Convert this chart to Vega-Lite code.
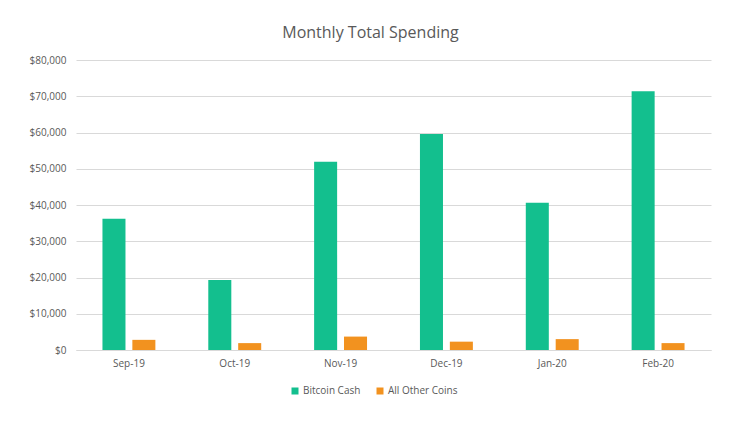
{
  "$schema": "https://vega.github.io/schema/vega-lite/v6.json",
  "width": 635,
  "height": 290,
  "autosize": "none",
  "padding": {"left": 76, "top": 60, "right": 31, "bottom": 74},
  "background": "white",
  "title": {
    "text": "Monthly Total Spending",
    "font": "Open Sans",
    "fontSize": 16,
    "fontWeight": "normal",
    "color": "#595959",
    "offset": 14,
    "dx": -23
  },
  "data": {
    "values": [
      {"Month": "Sep-19", "Series": "Bitcoin Cash", "Spending": 36200},
      {"Month": "Sep-19", "Series": "All Other Coins", "Spending": 2800},
      {"Month": "Oct-19", "Series": "Bitcoin Cash", "Spending": 19300},
      {"Month": "Oct-19", "Series": "All Other Coins", "Spending": 1900},
      {"Month": "Nov-19", "Series": "Bitcoin Cash", "Spending": 51900},
      {"Month": "Nov-19", "Series": "All Other Coins", "Spending": 3700},
      {"Month": "Dec-19", "Series": "Bitcoin Cash", "Spending": 59600},
      {"Month": "Dec-19", "Series": "All Other Coins", "Spending": 2300},
      {"Month": "Jan-20", "Series": "Bitcoin Cash", "Spending": 40600},
      {"Month": "Jan-20", "Series": "All Other Coins", "Spending": 3000},
      {"Month": "Feb-20", "Series": "Bitcoin Cash", "Spending": 71400},
      {"Month": "Feb-20", "Series": "All Other Coins", "Spending": 1900}
    ]
  },
  "mark": "bar",
  "encoding": {
    "x": {
      "field": "Month",
      "type": "nominal",
      "sort": null,
      "scale": {"paddingInner": 0.5, "paddingOuter": 0.25},
      "axis": {
        "title": null,
        "labelAngle": 0,
        "ticks": false,
        "domainColor": "#d9d9d9",
        "labelPadding": 8
      }
    },
    "xOffset": {
      "field": "Series",
      "type": "nominal",
      "sort": ["Bitcoin Cash", "All Other Coins"],
      "scale": {"paddingInner": 0.23, "paddingOuter": 0}
    },
    "y": {
      "field": "Spending",
      "type": "quantitative",
      "scale": {"domain": [0, 80000]},
      "axis": {
        "title": null,
        "values": [0, 10000, 20000, 30000, 40000, 50000, 60000, 70000, 80000],
        "format": "$,.0f",
        "domain": false,
        "ticks": false,
        "labelPadding": 10,
        "gridColor": "#d9d9d9"
      }
    },
    "color": {
      "field": "Series",
      "type": "nominal",
      "sort": ["Bitcoin Cash", "All Other Coins"],
      "scale": {
        "domain": ["Bitcoin Cash", "All Other Coins"],
        "range": ["#13bf8e", "#f2921f"]
      },
      "legend": {
        "title": null,
        "orient": "none",
        "direction": "horizontal",
        "legendX": 214,
        "legendY": 326,
        "symbolType": "square",
        "symbolSize": 49,
        "symbolStrokeWidth": 0,
        "labelOffset": 3,
        "columnPadding": 14
      }
    }
  },
  "config": {
    "view": {"stroke": null},
    "axis": {
      "labelFont": "Open Sans",
      "labelFontSize": 10,
      "labelColor": "#595959"
    },
    "legend": {
      "labelFont": "Open Sans",
      "labelFontSize": 10,
      "labelColor": "#595959"
    }
  }
}
